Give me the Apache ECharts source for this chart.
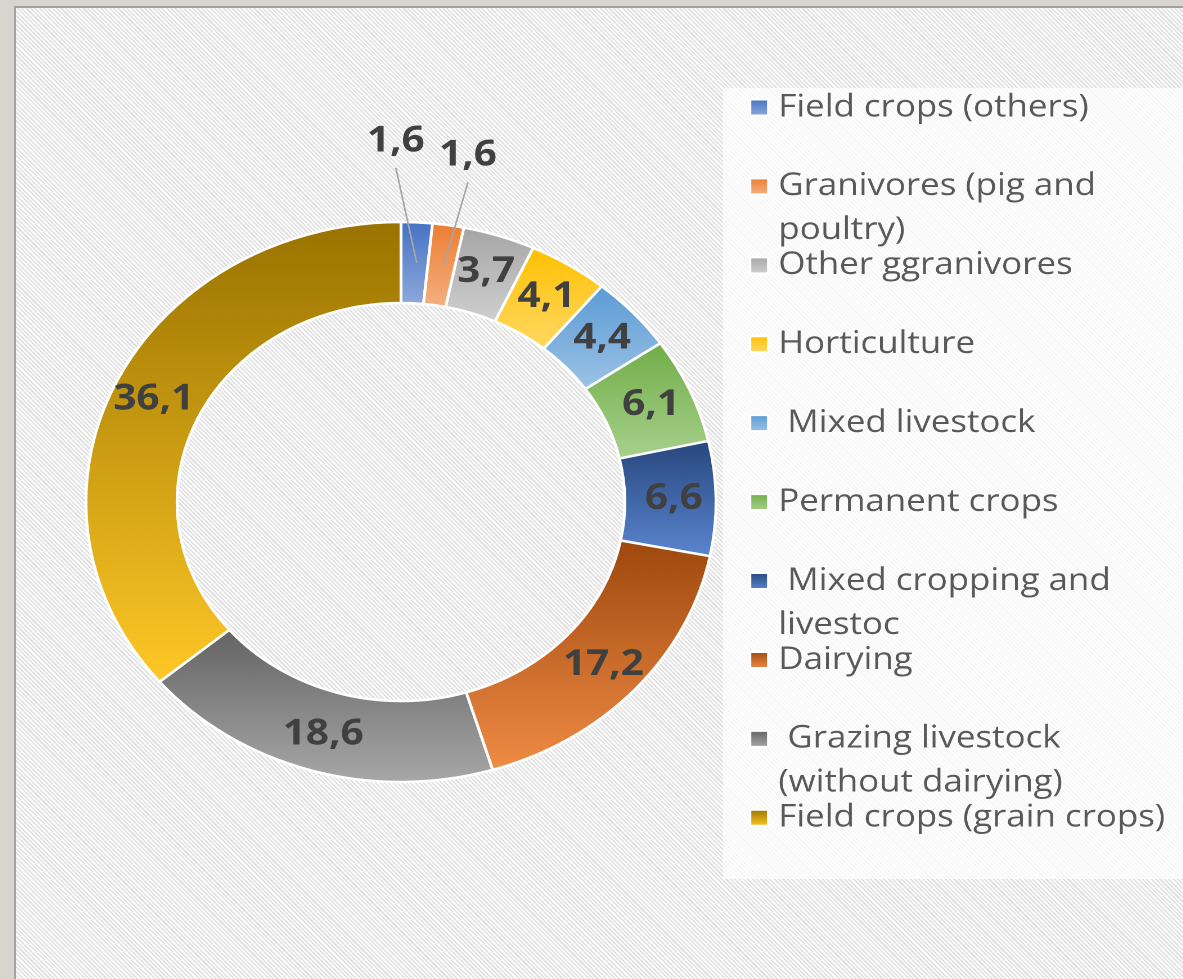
<!DOCTYPE html>
<html><head><meta charset="utf-8">
<script src="https://cdn.jsdelivr.net/npm/echarts@6/dist/echarts.min.js"></script>
<style>
html,body{margin:0;padding:0;width:1183px;height:979px;overflow:hidden;background:#d8d5ce;}
#frame{position:absolute;left:14px;top:6px;width:1167px;height:971px;border-left:2px solid #a2a2a2;border-top:2px solid #a2a2a2;
background:repeating-linear-gradient(45deg,#fafafa 0px,#fafafa 1.6px,#e3e3e3 1.6px,#e3e3e3 3.1px);overflow:hidden;}
#chart{position:absolute;left:0;top:0;width:1037.33px;height:971px;transform:scaleX(1.125);transform-origin:0 0;}
</style></head>
<body><div id="frame"><div id="chart"></div></div>
<script>
const categories = ['Field crops (others)', 'Granivores (pig and poultry)', 'Other ggranivores', 'Horticulture', ' Mixed livestock', 'Permanent crops', ' Mixed cropping and livestoc', 'Dairying', ' Grazing livestock (without dairying)', 'Field crops (grain crops)'];
const values = [1.6, 1.6, 3.7, 4.1, 4.4, 6.1, 6.6, 17.2, 18.6, 36.1];
const legendLabels = ['Field crops (others)', 'Granivores (pig and\npoultry)', 'Other ggranivores', 'Horticulture', ' Mixed livestock', 'Permanent crops', ' Mixed cropping and\nlivestoc', 'Dairying', ' Grazing livestock\n(without dairying)', 'Field crops (grain crops)'];
const colorTop = ['#4472c4', '#ed7d31', '#a5a5a5', '#ffc000', '#5b9bd5', '#70ad47', '#27467c', '#9e480e', '#636363', '#997300'];
const colorBottom = ['#8faadc', '#f4b183', '#d0d0d0', '#ffd966', '#9dc3e6', '#a9d18e', '#5b86d1', '#f08c45', '#a8a8a8', '#ffc827'];

const fmt = v => v.toFixed(1).replace('.', ',');
const grad = i => ({type: 'linear', x: 0, y: 0, x2: 0, y2: 1, colorStops: [{offset: 0, color: colorTop[i]}, {offset: 1, color: colorBottom[i]}]});
// callout shifts of the two outside labels relative to their slice's centre
const calloutShift = {0: [-18.6, -122], 1: [21.6, -110]};

const chart = echarts.init(document.getElementById('chart'), null, {renderer: 'canvas', devicePixelRatio: 2});

const LH = 44, firstCenter = 99.5, step = 78.92;
const legends = categories.map((name, i) => {
  const two = legendLabels[i].indexOf('\n') >= 0;
  const c = firstCenter + step * i;
  return {
    data: [name], orient: 'vertical', left: 651.6, top: two ? c - 1.5 * LH : c - 0.5 * LH,
    padding: 0, itemWidth: 16, itemHeight: 16, icon: 'rect', selectedMode: false,
    // two-line entries get an empty leading line so that their first line sits beside the icon
    formatter: n => { const t = legendLabels[categories.indexOf(n)]; return t.indexOf('\n') >= 0 ? ' \n' + t : t; },
    textStyle: {fontFamily: 'Open Sans', fontSize: 31, color: '#595959', lineHeight: LH, padding: [0, 0, 0, 4]}
  };
});

const pieGeom = {center: [342.2, 494], radius: [199, 280], startAngle: 90, clockwise: true, avoidLabelOverlap: false, animation: false};

chart.setOption({
  animation: false,
  graphic: [{type: 'rect', left: 628.4, top: 80, shape: {width: 420, height: 791},
    style: {fill: 'rgba(255,255,255,0.72)'}, silent: true, z: -1}],
  legend: legends,
  series: [Object.assign({
    type: 'pie', name: 'main', z: 2,
    itemStyle: {borderColor: '#ffffff', borderWidth: 2.5},
    emphasis: {disabled: true},
    label: {show: true, position: 'inside', formatter: p => fmt(p.value),
      fontFamily: 'Open Sans', fontSize: 36, fontWeight: 'bold', color: '#404040'},
    labelLine: {show: false},
    data: categories.map((name, i) => {
      const d = {name: name, value: values[i], itemStyle: {color: grad(i)}};
      if (calloutShift[i]) d.label = {show: false};
      return d;
    })
  }, pieGeom), Object.assign({
    // transparent overlay carrying the two callout labels so their leader lines run over the ring
    type: 'pie', name: 'callouts', z: 5, silent: true,
    itemStyle: {color: 'rgba(0,0,0,0)', borderWidth: 0},
    emphasis: {disabled: true},
    label: {show: false},
    labelLine: {show: false},
    labelLayout: function (p) {
      const s = calloutShift[p.dataIndex];
      if (!s) return {};
      const ax = p.rect.x + p.rect.width / 2, ay = p.rect.y + p.rect.height / 2;
      const lx = ax + s[0], ly = ay + s[1];
      return {x: lx, y: ly, align: 'center', verticalAlign: 'middle',
        labelLinePoints: [[lx, ly + 27], [ax, ay], [ax, ay]]};
    },
    data: categories.map((name, i) => {
      const d = {name: name, value: values[i]};
      if (calloutShift[i]) {
        d.label = {show: true, position: 'outside', formatter: p => fmt(p.value),
          fontFamily: 'Open Sans', fontSize: 36, fontWeight: 'bold', color: '#404040'};
        d.labelLine = {show: true, length: 20, length2: 0, lineStyle: {color: '#a6a6a6', width: 1.5}};
      }
      return d;
    })
  }, pieGeom)]
});
</script>
</body></html>
